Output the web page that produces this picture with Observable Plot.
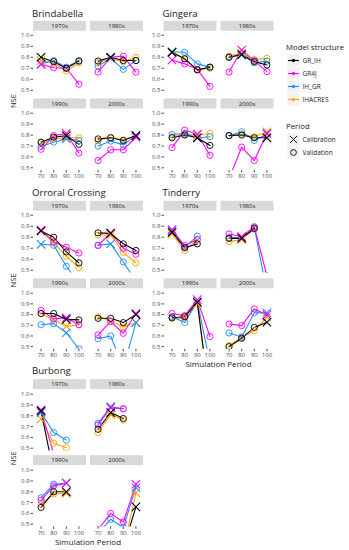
<!DOCTYPE html>
<html>
<head>
<meta charset="utf-8">
<script src="https://cdn.jsdelivr.net/npm/d3@7"></script>
<script src="https://cdn.jsdelivr.net/npm/@observablehq/plot@0.6"></script>
<style>
  body { margin: 0; background: #fff; }
  #chart { position: relative; width: 349px; height: 550px; overflow: hidden; font-family: "Open Sans", sans-serif; }
  .abs { position: absolute; }
</style>
</head>
<body>
<div id="chart"></div>
<script>
// ---------------- data ----------------
const decades = ["1970s", "1980s", "1990s", "2000s"];
const models = ["GR_IH", "GR4J", "IH_GR", "IHACRES"];
const modelColors = ["#000000", "#ff00ff", "#1e90ff", "#ffa500"];
const simPeriods = [70, 80, 90, 100];
const calibPeriods = [70, 80, 90, 100]; // calibration period for each decade panel
const periods = ["Calibration", "Validation"];
const yTicks = [0.5, 0.6, 0.7, 0.8, 0.9, 1.0];

// NSE[decade][model][simulation period]   (model order: GR_IH, GR4J, IH_GR, IHACRES)
const nseBrindabella = [
  [[0.80, 0.76, 0.70, 0.765], [0.735, 0.705, 0.70, 0.555], [0.74, 0.77, 0.71, 0.77], [0.77, 0.745, 0.675, 0.75]],
  [[0.765, 0.80, 0.77, 0.77], [0.665, 0.80, 0.81, 0.665], [0.72, 0.79, 0.69, 0.77], [0.75, 0.79, 0.76, 0.80]],
  [[0.735, 0.78, 0.795, 0.715], [0.67, 0.795, 0.815, 0.635], [0.695, 0.735, 0.765, 0.75], [0.725, 0.765, 0.775, 0.775]],
  [[0.765, 0.775, 0.75, 0.795], [0.567, 0.665, 0.665, 0.78], [0.70, 0.745, 0.71, 0.795], [0.75, 0.78, 0.755, 0.795]]
];
const nseGingera = [
  [[0.845, 0.785, 0.685, 0.71], [0.775, 0.74, 0.69, 0.535], [0.85, 0.845, 0.74, 0.71], [0.845, 0.79, 0.685, 0.70]],
  [[0.80, 0.825, 0.76, 0.73], [0.665, 0.865, 0.77, 0.67], [0.80, 0.82, 0.75, 0.765], [0.81, 0.835, 0.78, 0.79]],
  [[0.775, 0.80, 0.775, 0.705], [0.685, 0.845, 0.81, 0.615], [0.805, 0.815, 0.775, 0.785], [0.785, 0.805, 0.80, 0.815]],
  [[0.795, 0.80, 0.775, 0.775], [0.40, 0.69, 0.567, 0.815], [0.795, 0.83, 0.75, 0.81], [0.795, 0.81, 0.785, 0.83]]
];
const nseOrroral = [
  [[0.857, 0.80, 0.667, 0.567], [0.865, 0.76, 0.71, 0.657], [0.736, 0.727, 0.536, 0.38], [0.857, 0.75, 0.627, 0.524]],
  [[0.84, 0.835, 0.74, 0.68], [0.725, 0.84, 0.70, 0.645], [0.727, 0.74, 0.575, 0.40], [0.82, 0.82, 0.66, 0.567]],
  [[0.81, 0.81, 0.755, 0.75], [0.84, 0.76, 0.77, 0.705], [0.705, 0.715, 0.63, 0.48], [0.81, 0.75, 0.69, 0.705]],
  [[0.765, 0.765, 0.725, 0.80], [0.61, 0.735, 0.625, 0.81], [0.575, 0.60, 0.30, 0.725], [0.78, 0.74, 0.685, 0.725]]
];
const nseTinderry = [
  [[0.845, 0.705, 0.74, null], [0.87, 0.725, 0.78, null], [0.86, 0.71, 0.81, null], [0.83, 0.68, 0.775, null]],
  [[0.79, 0.79, 0.88, null], [0.83, 0.805, 0.895, 0.45], [0.795, 0.80, 0.89, 0.30], [0.76, 0.78, 0.875, null]],
  [[0.77, 0.78, 0.915, 0.0], [0.81, 0.79, 0.94, 0.595], [0.78, 0.725, 0.92, 0.35], [0.765, 0.765, 0.90, 0.0]],
  [[0.50, 0.578, 0.68, 0.728], [0.712, 0.697, 0.853, 0.797], [0.628, 0.59, 0.816, 0.816], [0.51, 0.59, 0.65, 0.775]]
];
const nseBurbong = [
  [[0.845, 0.27, 0.20, null], [0.855, 0.445, 0.30, null], [0.83, 0.645, 0.575, null], [0.77, 0.545, 0.505, null]],
  [[0.675, 0.83, 0.775, null], [0.715, 0.875, 0.865, null], [0.73, 0.885, 0.865, null], [0.645, 0.81, 0.76, null]],
  [[0.655, 0.80, 0.80, null], [0.72, 0.855, 0.88, null], [0.745, 0.87, 0.88, null], [0.685, 0.78, 0.785, null]],
  [[0.30, 0.30, 0.28, 0.66], [0.45, 0.60, 0.52, 0.87], [0.42, 0.545, 0.47, 0.84], [0.30, 0.30, 0.27, 0.79]]
];

// ---------------- layout ----------------
const blocks = [
  {name: "Brindabella", values: nseBrindabella, x0: 33, rows: [[35, 90], [112.7, 167.3]], titleY: 17, nse: true, xlab: null},
  {name: "Gingera", values: nseGingera, x0: 163.5, rows: [[35, 90], [112.7, 167.3]], titleY: 17, nse: false, xlab: null},
  {name: "Orroral Crossing", values: nseOrroral, x0: 33, rows: [[215, 270], [292.5, 346]], titleY: 195.5, nse: true, xlab: null},
  {name: "Tinderry", values: nseTinderry, x0: 163.5, rows: [[215, 270], [292.5, 346]], titleY: 195.5, nse: false, xlab: 364},
  {name: "Burbong", values: nseBurbong, x0: 33, rows: [[393.3, 447.3], [469.3, 523.3]], titleY: 373.5, nse: true, xlab: 542}
];
const PW = 53, COLSTEP = 57;
const FONT = "'Open Sans', sans-serif";

const chart = document.getElementById("chart");
const overlay = d3.create("svg").attr("width", 349).attr("height", 550)
  .style("position", "absolute").style("left", 0).style("top", 0)
  .style("font-family", FONT);
chart.appendChild(overlay.node());

function panelGeom(b, di) {
  const r = Math.floor(di / 2), c = di % 2;
  const [y1, y05] = b.rows[r];
  const unit = (y05 - y1) / 0.5;
  const top = y1 - 0.025 * unit, bottom = y05 + 0.025 * unit;
  return {r, c, top, bottom, left: b.x0 + c * COLSTEP};
}

for (const b of blocks) {
  overlay.append("text").attr("x", b.x0 - 1).attr("y", b.titleY).text(b.name)
    .attr("font-size", 9.6).attr("fill", "#1a1a1a");
  for (let di = 0; di < 4; di++) {
    const g = panelGeom(b, di);
    overlay.append("rect").attr("x", g.left).attr("y", g.top - 11.5).attr("width", PW).attr("height", 10)
      .attr("fill", "#d9d9d9");
    overlay.append("text").attr("x", g.left + PW / 2).attr("y", g.top - 6.5).attr("dy", "0.35em")
      .attr("text-anchor", "middle").attr("font-size", 6).attr("fill", "#1a1a1a").text(decades[di]);

    // data rows (reverse model order so GR_IH is drawn on top)
    const rows = [];
    for (let mi = models.length - 1; mi >= 0; mi--) {
      simPeriods.forEach((s, si) => {
        const v = b.values[di][mi][si];
        if (v != null) rows.push({model: models[mi], sim: s, nse: v,
          period: s === calibPeriods[di] ? periods[0] : periods[1]});
      });
    }
    const ml = g.c === 0 ? 20 : 0;
    const mb = g.r === 1 ? 12 : 0;
    const H = g.bottom - g.top;
    const p = Plot.plot({
      width: PW + ml,
      height: H + mb,
      marginLeft: ml, marginRight: 0, marginTop: 0, marginBottom: mb,
      style: {background: "transparent", maxWidth: "none", overflow: "visible",
              fontFamily: FONT, fontSize: "6px", color: "#4d4d4d"},
      x: {domain: [64, 106], ticks: simPeriods, axis: g.r === 1 ? "bottom" : null,
          label: null, tickSize: 2.5, tickPadding: 1},
      y: {domain: [0.475, 1.025], ticks: yTicks, tickFormat: ".1f", axis: g.c === 0 ? "left" : null,
          label: null, tickSize: 2.5, tickPadding: 1.5},
      color: {domain: models, range: modelColors},
      marks: [
        Plot.line(rows, {x: "sim", y: "nse", z: "model", stroke: "model", strokeWidth: 1.1, clip: true}),
        Plot.dot(rows.filter(d => d.period === "Validation"),
          {x: "sim", y: "nse", stroke: "model", r: 3.1, strokeWidth: 0.9, fill: "none", clip: true}),
        Plot.dot(rows.filter(d => d.period === "Calibration"),
          {x: "sim", y: "nse", stroke: "model", symbol: "times", r: 3.9, strokeWidth: 1.1, clip: true})
      ]
    });
    const wrap = document.createElement("div");
    wrap.className = "abs";
    wrap.style.left = (g.left - ml) + "px";
    wrap.style.top = g.top + "px";
    wrap.appendChild(p);
    chart.appendChild(wrap);
  }
  const g0 = panelGeom(b, 0), g3 = panelGeom(b, 3);
  if (b.nse) {
    const cy = (g0.top + g3.bottom) / 2;
    overlay.append("text").attr("transform", `translate(13,${cy}) rotate(-90)`)
      .attr("text-anchor", "middle").attr("dy", "0.35em").attr("font-size", 7.5).attr("fill", "#1a1a1a").text("NSE");
  }
  if (b.xlab) {
    overlay.append("text").attr("x", b.x0 + (COLSTEP + PW) / 2).attr("y", b.xlab).attr("dy", "0.35em")
      .attr("text-anchor", "middle").attr("font-size", 8).attr("fill", "#1a1a1a").text("Simulation Period");
  }
}

// ---------------- legends ----------------
overlay.append("text").attr("x", 286).attr("y", 47).attr("dy", "0.35em").attr("font-size", 7.8)
  .attr("fill", "#1a1a1a").text("Model structure");
overlay.append("text").attr("x", 286).attr("y", 126).attr("dy", "0.35em").attr("font-size", 7.8)
  .attr("fill", "#1a1a1a").text("Period");

const legendModels = models.map(m => ({m}));
const legModel = Plot.plot({
  width: 60, height: 53, margin: 0,
  style: {background: "transparent", maxWidth: "none", overflow: "visible", fontFamily: FONT, fontSize: "6.5px", color: "#1a1a1a"},
  x: {domain: [0, 60], range: [0, 60], axis: null},
  y: {type: "point", domain: models, range: [7, 46], padding: 0, axis: null},
  color: {domain: models, range: modelColors},
  marks: [
    Plot.dot(legendModels, {x: 7, y: "m", symbol: "square", r: 7, fill: "#f2f2f2"}),
    Plot.link(legendModels, {x1: 1.5, x2: 12.5, y1: "m", y2: "m", stroke: "m", strokeWidth: 1.1}),
    Plot.dot(legendModels, {x: 7, y: "m", fill: "m", r: 1.7}),
    Plot.text(legendModels, {x: 16, y: "m", text: "m", textAnchor: "start", fill: "#1a1a1a"})
  ]
});
const lw1 = document.createElement("div");
lw1.className = "abs"; lw1.style.left = "286px"; lw1.style.top = "53px";
lw1.appendChild(legModel); chart.appendChild(lw1);

const legendPeriods = periods.map(p => ({p}));
const legPeriod = Plot.plot({
  width: 60, height: 27, margin: 0,
  style: {background: "transparent", maxWidth: "none", overflow: "visible", fontFamily: FONT, fontSize: "6.5px", color: "#1a1a1a"},
  x: {domain: [0, 60], range: [0, 60], axis: null},
  y: {type: "point", domain: periods, range: [7, 20], padding: 0, axis: null},
  symbol: {domain: periods, range: ["times", "circle"]},
  marks: [
    Plot.dot(legendPeriods, {x: 7, y: "p", symbol: "square", r: 7, fill: "#f2f2f2"}),
    Plot.dot(legendPeriods, {x: 7, y: "p", symbol: "p", r: d => d.p === "Calibration" ? 3.9 : 3.1, stroke: "#1a1a1a", fill: "none", strokeWidth: 1}),
    Plot.text(legendPeriods, {x: 16, y: "p", text: "p", textAnchor: "start", fill: "#1a1a1a"})
  ]
});
const lw2 = document.createElement("div");
lw2.className = "abs"; lw2.style.left = "286px"; lw2.style.top = "132px";
lw2.appendChild(legPeriod); chart.appendChild(lw2);
</script>
</body>
</html>
